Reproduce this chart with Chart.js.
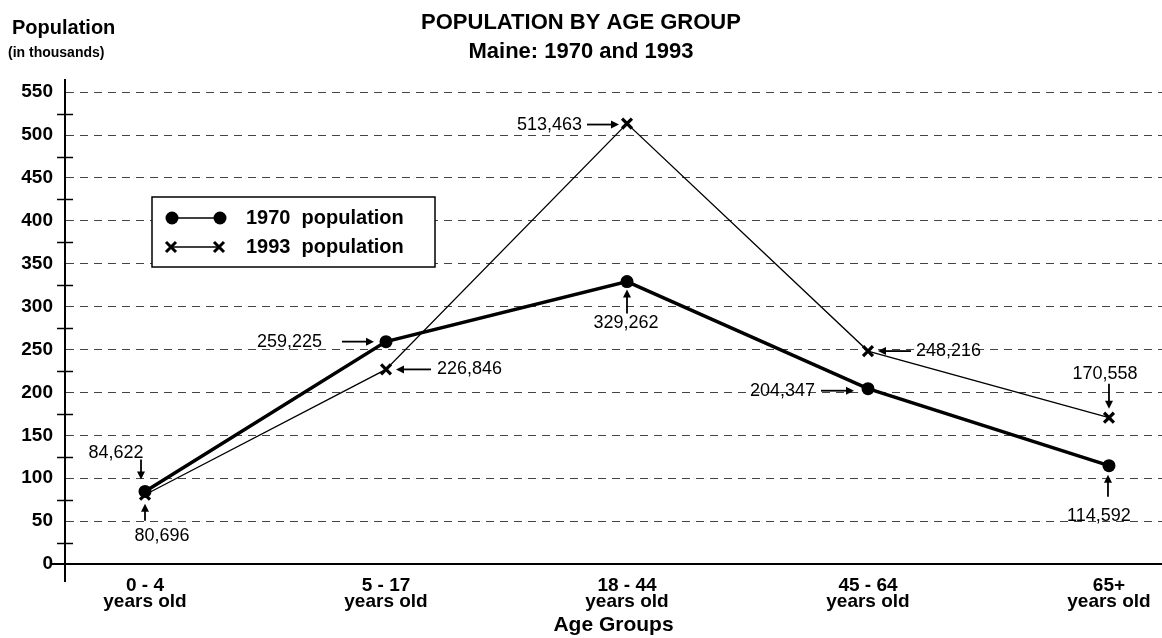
<!DOCTYPE html>
<html>
<head>
<meta charset="utf-8">
<script src="https://cdn.jsdelivr.net/npm/chart.js@4.4.1/dist/chart.umd.min.js"></script>
<style>
  html, body { margin: 0; padding: 0; background: #fff; }
</style>
</head>
<body>
<canvas id="popChart" width="1162" height="638"></canvas>
<script>
var ageGroups = ['0 - 4', '5 - 17', '18 - 44', '45 - 64', '65+'];
var ageSuffix = 'years old';
var pop1970 = [84.622, 259.225, 329.262, 204.347, 114.592]; // thousands
var pop1993 = [80.696, 226.846, 513.463, 248.216, 170.558];
var yTickLabels = [0, 50, 100, 150, 200, 250, 300, 350, 400, 450, 500, 550];
var seriesNames = ['1970  population', '1993  population'];

// where each value callout sits relative to its marker:
// [dataset, index, textDx, textDy, align, arrow x1, y1, x2 (tip), y2 (tip)]
var callouts = [
    [0, 0, -29, -38, 'center', -4, -32, -4, -12],
    [1, 0, 17, 41, 'center', 0, 26, 0, 9],
    [0, 1, -64, 0, 'right', -44, 0, -12, 0],
    [1, 1, 51, 0, 'left', 45, 0, 10, 0],
    [1, 2, -45, 1, 'right', -40, 1, -8, 1],
    [0, 2, -1, 41, 'center', 0, 32, 0, 8],
    [1, 3, 48, 0, 'left', 43, 0, 10, 0],
    [0, 3, -53, 2, 'right', -47, 2, -14, 2],
    [1, 4, -4, -44, 'center', 0, -34, 0, -9],
    [0, 4, -10, 50, 'center', -1, 31, -1, 9]
];

var FONT = '"Liberation Sans", Arial, sans-serif';
Chart.defaults.font.family = FONT;
Chart.defaults.color = '#000';

function toPoints(arr) {
    return arr.map(function (v, i) { return { x: i, y: v }; });
}

function fmt(v) {
    return Math.round(v * 1000).toLocaleString('en-US');
}

function drawArrow(ctx, x1, y1, x2, y2) {
    var ang = Math.atan2(y2 - y1, x2 - x1);
    var hl = 8, hw = 4;
    ctx.beginPath();
    ctx.moveTo(x1, y1);
    ctx.lineTo(x2 - Math.cos(ang) * hl * 0.8, y2 - Math.sin(ang) * hl * 0.8);
    ctx.stroke();
    ctx.beginPath();
    ctx.moveTo(x2, y2);
    ctx.lineTo(x2 - Math.cos(ang) * hl - Math.sin(ang) * hw, y2 - Math.sin(ang) * hl + Math.cos(ang) * hw);
    ctx.lineTo(x2 - Math.cos(ang) * hl + Math.sin(ang) * hw, y2 - Math.sin(ang) * hl - Math.cos(ang) * hw);
    ctx.closePath();
    ctx.fill();
}

function drawX(ctx, x, y, r) {
    ctx.beginPath();
    ctx.moveTo(x - r, y - r); ctx.lineTo(x + r, y + r);
    ctx.moveTo(x + r, y - r); ctx.lineTo(x - r, y + r);
    ctx.stroke();
}

var axisExtras = {
    id: 'axisExtras',
    afterDraw: function (chart) {
        var ctx = chart.ctx, ca = chart.chartArea, ys = chart.scales.y;
        ctx.save();
        ctx.strokeStyle = '#000';
        ctx.lineWidth = 1.5;
        // minor ticks crossing the y axis
        for (var v = 25; v < 550; v += 50) {
            var py = Math.round(ys.getPixelForValue(v)) + 0.5;
            ctx.beginPath();
            ctx.moveTo(ca.left - 8, py);
            ctx.lineTo(ca.left + 8, py);
            ctx.stroke();
        }
        ctx.lineWidth = 2;
        ctx.beginPath();
        ctx.moveTo(ca.left - 13, ca.bottom);
        ctx.lineTo(ca.left, ca.bottom);
        ctx.moveTo(ca.left, ca.bottom);
        ctx.lineTo(ca.left, ca.bottom + 18);
        ctx.stroke();

        // y axis caption
        ctx.fillStyle = '#000';
        ctx.textBaseline = 'middle';
        ctx.textAlign = 'left';
        ctx.font = 'bold 20px ' + FONT;
        ctx.fillText('Population', 12, 28);
        ctx.font = 'bold 14px ' + FONT;
        ctx.fillText('(in thousands)', 8, 53);
        ctx.restore();
    }
};

var valueCallouts = {
    id: 'valueCallouts',
    afterDatasetsDraw: function (chart) {
        var ctx = chart.ctx;
        ctx.save();
        ctx.fillStyle = '#000';
        ctx.strokeStyle = '#000';
        ctx.lineWidth = 1.8;
        ctx.font = '18px ' + FONT;
        ctx.textBaseline = 'middle';
        callouts.forEach(function (c) {
            var pt = chart.getDatasetMeta(c[0]).data[c[1]];
            var val = chart.data.datasets[c[0]].data[c[1]].y;
            ctx.textAlign = c[4];
            ctx.fillText(fmt(val), pt.x + c[2], pt.y + c[3]);
            drawArrow(ctx, pt.x + c[5], pt.y + c[6], pt.x + c[7], pt.y + c[8]);
        });

        // legend box
        var bx = 152, by = 197, bw = 283, bh = 70;
        ctx.fillStyle = '#fff';
        ctx.fillRect(bx, by, bw, bh);
        ctx.lineWidth = 1.5;
        ctx.strokeRect(bx, by, bw, bh);
        ctx.fillStyle = '#000';
        ctx.font = 'bold 20px ' + FONT;
        ctx.textAlign = 'left';
        var rows = [218, 247];
        rows.forEach(function (ry, k) {
            ctx.lineWidth = 1.3;
            ctx.beginPath();
            ctx.moveTo(172, ry);
            ctx.lineTo(220, ry);
            ctx.stroke();
            if (k === 0) {
                [172, 220].forEach(function (mx) {
                    ctx.beginPath();
                    ctx.arc(mx, ry, 6.5, 0, Math.PI * 2);
                    ctx.fill();
                });
            } else {
                ctx.lineWidth = 3;
                drawX(ctx, 171, ry, 5);
                drawX(ctx, 219, ry, 5);
            }
            ctx.fillText(seriesNames[k], 246, ry);
        });
        ctx.restore();
    }
};

var ctx = document.getElementById('popChart').getContext('2d');
var popChart = new Chart(ctx, {
    type: 'line',
    data: {
        datasets: [{
            label: seriesNames[0],
            data: toPoints(pop1970),
            borderColor: '#000',
            backgroundColor: '#000',
            borderWidth: 3.5,
            pointStyle: 'circle',
            pointRadius: 6.5,
            pointBackgroundColor: '#000',
            pointBorderWidth: 0,
            tension: 0
        }, {
            label: seriesNames[1],
            data: toPoints(pop1993),
            borderColor: '#000',
            backgroundColor: '#000',
            borderWidth: 1.3,
            pointStyle: 'crossRot',
            pointRadius: 7,
            pointBorderWidth: 3.2,
            pointBorderColor: '#000',
            tension: 0
        }]
    },
    options: {
        responsive: false,
        animation: false,
        events: [],
        layout: { autoPadding: false, padding: { left: 0, right: 0, top: 0, bottom: 0 } },
        plugins: {
            legend: { display: false },
            tooltip: { enabled: false },
            title: {
                display: true,
                text: ['POPULATION BY AGE GROUP', 'Maine: 1970 and 1993'],
                color: '#000',
                font: { size: 22, weight: 'bold', lineHeight: 1.3 },
                padding: { top: 9, bottom: 14 }
            }
        },
        scales: {
            x: {
                type: 'linear',
                min: -0.332,
                max: 4.22,
                afterBuildTicks: function (scale) {
                    scale.ticks = ageGroups.map(function (g, i) { return { value: i }; });
                },
                afterFit: function (scale) {
                    scale.height = 74;
                    scale.paddingLeft = 0;
                    scale.paddingRight = 0;
                },
                grid: { display: false, drawTicks: false },
                border: { display: true, color: '#000', width: 2 },
                ticks: {
                    autoSkip: false,
                    maxRotation: 0,
                    padding: 13,
                    color: '#000',
                    font: { size: 19, weight: 'bold', lineHeight: 0.88 },
                    callback: function (v) { return [ageGroups[v], ageSuffix]; }
                },
                title: {
                    display: true,
                    text: 'Age Groups',
                    color: '#000',
                    font: { size: 21, weight: 'bold', lineHeight: 1.2 },
                    padding: { top: 2, bottom: 0 }
                }
            },
            y: {
                min: 0,
                max: 564,
                afterBuildTicks: function (scale) {
                    var t = [];
                    for (var v = 0; v <= 550; v += 25) t.push({ value: v });
                    scale.ticks = t;
                },
                afterFit: function (scale) { scale.width = 65; },
                ticks: {
                    padding: 12,
                    color: '#000',
                    font: { size: 19, weight: 'bold' },
                    callback: function (v) { return yTickLabels.indexOf(v) >= 0 ? String(v) : ''; }
                },
                grid: {
                    drawTicks: false,
                    lineWidth: 1,
                    color: function (c) {
                        var v = c.tick ? c.tick.value : -1;
                        return (v > 0 && yTickLabels.indexOf(v) >= 0) ? '#444' : 'rgba(0,0,0,0)';
                    }
                },
                border: { display: true, color: '#000', width: 2, dash: [8, 6] }
            }
        }
    },
    plugins: [axisExtras, valueCallouts]
});
</script>
</body>
</html>
